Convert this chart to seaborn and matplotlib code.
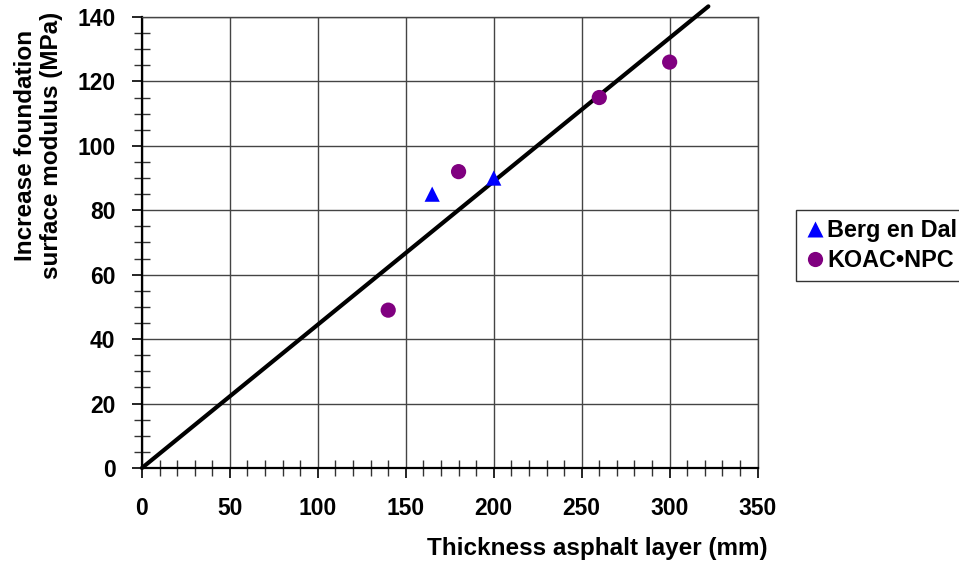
import numpy as np
import pandas as pd
import matplotlib
matplotlib.use("Agg")
import matplotlib.pyplot as plt
import seaborn as sns
from matplotlib.ticker import MultipleLocator

# data
berg_x = [165, 200]
berg_y = [85, 90]
koac_x = [140, 180, 260, 300]
koac_y = [49, 92, 115, 126]
trend_x = [0, 322]
trend_y = [0, 143.3]

series_names = ["Berg en Dal", "KOAC•NPC"]

df = pd.DataFrame({
    "thickness": berg_x + koac_x,
    "modulus": berg_y + koac_y,
    "source": [series_names[0]] * len(berg_x) + [series_names[1]] * len(koac_x),
})

sns.set_style("white")
plt.rcParams['font.family'] = ['Liberation Sans', 'DejaVu Sans']
plt.rcParams['font.weight'] = 'bold'
plt.rcParams['text.color'] = 'black'
plt.rcParams['axes.labelcolor'] = 'black'
plt.rcParams['xtick.color'] = 'black'
plt.rcParams['ytick.color'] = 'black'

fig = plt.figure(figsize=(9.59, 5.61), dpi=100)
ax = fig.add_axes([0.148, 0.1658, 0.642, 0.8039])

ax.plot(trend_x, trend_y, color="black", lw=3, clip_on=False, zorder=3)

sns.scatterplot(data=df, x="thickness", y="modulus", hue="source", style="source",
                palette={series_names[0]: "#0000FF", series_names[1]: "#800080"},
                markers={series_names[0]: "^", series_names[1]: "o"},
                s=120, edgecolor="none", ax=ax, zorder=4)

ax.set_xlim(0, 350)
ax.set_ylim(0, 140)
ax.xaxis.set_major_locator(MultipleLocator(50))
ax.xaxis.set_minor_locator(MultipleLocator(10))
ax.yaxis.set_major_locator(MultipleLocator(20))
ax.yaxis.set_minor_locator(MultipleLocator(5))
ax.grid(True, which="major", color="#444444", lw=1.0)
ax.set_axisbelow(True)

ax.tick_params(which="both", bottom=True, left=True, top=False, right=False)
ax.tick_params(which="major", direction="out", length=7, width=1.2, labelsize=16.5)
ax.tick_params(axis="x", which="major", pad=14)
ax.tick_params(axis="y", which="major", pad=12)
ax.tick_params(which="minor", direction="inout", length=11, width=1, color="#333333")
for lbl in ax.get_xticklabels() + ax.get_yticklabels():
    lbl.set_fontweight("bold")

for side in ["left", "bottom"]:
    ax.spines[side].set_color("black")
    ax.spines[side].set_linewidth(1.6)
for side in ["top", "right"]:
    ax.spines[side].set_color("#444444")
    ax.spines[side].set_linewidth(1.0)

ax.set_xlabel("Thickness asphalt layer (mm)", fontsize=17.5, fontweight="bold")
ax.set_ylabel("Increase foundation\nsurface modulus (MPa)", fontsize=17.5, fontweight="bold",
              linespacing=1.15)
ax.xaxis.set_label_coords(0.740, -0.153)
ax.yaxis.set_label_coords(-0.128, 0.716)

handles, labels = ax.get_legend_handles_labels()
leg = ax.legend(handles, labels, loc="upper left", bbox_to_anchor=(0.830, 0.626),
                bbox_transform=fig.transFigure, frameon=True, fancybox=False,
                prop={"weight": "bold", "size": 16.8}, handletextpad=0.05,
                borderpad=0.38, labelspacing=0.3, handlelength=0.9, borderaxespad=0,
                markerscale=1.0)
leg.get_frame().set_edgecolor("black")
leg.get_frame().set_linewidth(1.0)

fig.savefig("out.png", dpi=100)
